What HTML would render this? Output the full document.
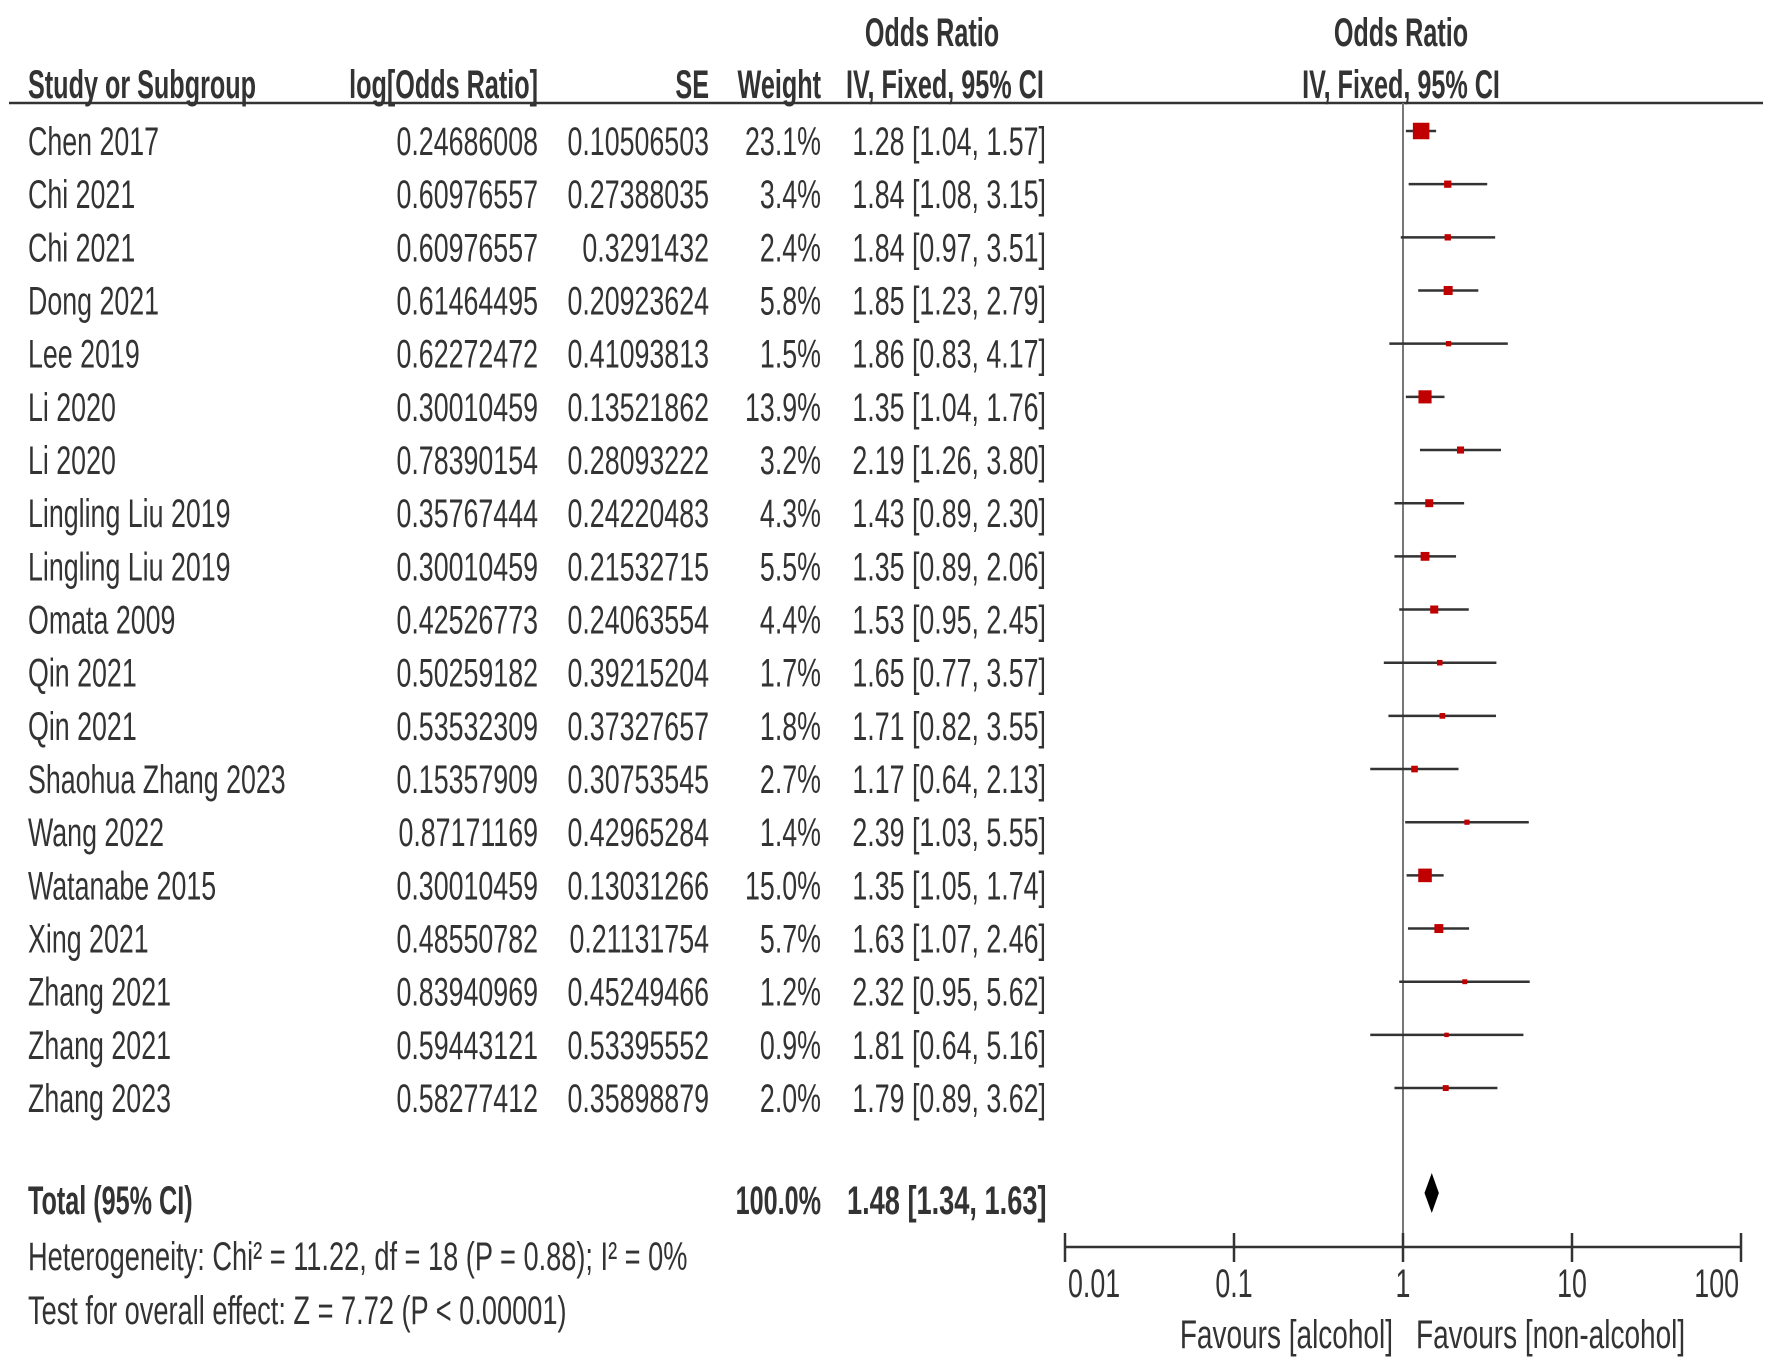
<!DOCTYPE html>
<html><head><meta charset="utf-8"><style>
html,body{margin:0;padding:0;background:#fff;}
svg{display:block;}
text{font-family:"Liberation Sans",sans-serif;fill:#333;}
</style></head><body>
<svg id="c" width="1772" height="1370" viewBox="0 0 1772 1370" xmlns="http://www.w3.org/2000/svg"></svg>
<script>
const studies=["Chen 2017","Chi 2021","Chi 2021","Dong 2021","Lee 2019","Li 2020","Li 2020","Lingling Liu 2019","Lingling Liu 2019","Omata 2009","Qin 2021","Qin 2021","Shaohua Zhang 2023","Wang 2022","Watanabe 2015","Xing 2021","Zhang 2021","Zhang 2021","Zhang 2023"];
const logOR=["0.24686008","0.60976557","0.60976557","0.61464495","0.62272472","0.30010459","0.78390154","0.35767444","0.30010459","0.42526773","0.50259182","0.53532309","0.15357909","0.87171169","0.30010459","0.48550782","0.83940969","0.59443121","0.58277412"];
const seVals=["0.10506503","0.27388035","0.3291432","0.20923624","0.41093813","0.13521862","0.28093222","0.24220483","0.21532715","0.24063554","0.39215204","0.37327657","0.30753545","0.42965284","0.13031266","0.21131754","0.45249466","0.53395552","0.35898879"];
const weights=[23.1,3.4,2.4,5.8,1.5,13.9,3.2,4.3,5.5,4.4,1.7,1.8,2.7,1.4,15.0,5.7,1.2,0.9,2.0];
const orVals=[1.28,1.84,1.84,1.85,1.86,1.35,2.19,1.43,1.35,1.53,1.65,1.71,1.17,2.39,1.35,1.63,2.32,1.81,1.79];
const ciLow=[1.04,1.08,0.97,1.23,0.83,1.04,1.26,0.89,0.89,0.95,0.77,0.82,0.64,1.03,1.05,1.07,0.95,0.64,0.89];
const ciHigh=[1.57,3.15,3.51,2.79,4.17,1.76,3.80,2.30,2.06,2.45,3.57,3.55,2.13,5.55,1.74,2.46,5.62,5.16,3.62];
const totalOR=[1.48,1.34,1.63];
const axisTicks=[0.01,0.1,1,10,100];
const axisLabels=["0.01","0.1","1","10","100"];

const svg=document.getElementById('c');
const NS="http://www.w3.org/2000/svg";
const FS=40;
function xs(v){return 1403+169*Math.log10(v);}
function rowY(i){return 141+53.17*i;}
function el(tag,attrs,parent){const e=document.createElementNS(NS,tag);for(const k in attrs)e.setAttribute(k,attrs[k]);(parent||svg).appendChild(e);return e;}
function txt(x,y,s,anchor,bold,name,fs,sx){
  const SX=sx||(bold?0.63:0.67);
  const g=el('g',{transform:'scale('+SX+',1)'});
  const t=el('text',{x:x/SX,y:y,'text-anchor':anchor||'start','font-size':fs||FS,'font-weight':bold?'bold':'normal'},g);
  t.textContent=s;
  
  
  return t;
}
txt(932,46,"Odds Ratio","middle",true,"or-header-top");
txt(1401,46,"Odds Ratio","middle",true,"plot-header-top");
txt(28,98,"Study or Subgroup","start",true,"study-header");
txt(538,98,"log[Odds Ratio]","end",true,"logor-header");
txt(709,98,"SE","end",true,"se-header");
txt(821,98,"Weight","end",true,"weight-header");
txt(846,98,"IV, Fixed, 95% CI","start",true,"ci-header");
txt(1401,98,"IV, Fixed, 95% CI","middle",true,"plot-header-method");
let hl=el('line',{x1:9,y1:103,x2:1763,y2:103,stroke:'#333','stroke-width':2.5});


let vl=el('line',{x1:1403,y1:103,x2:1403,y2:1247,stroke:'#777','stroke-width':2});



for(let i=0;i<studies.length;i++){
  const y=rowY(i), b=y+14;
  txt(28,b,studies[i],"start",false,"study-name");
  txt(538,b,logOR[i],"end",false,"logor-value");
  txt(709,b,seVals[i],"end",false,"se-value");
  txt(821,b,weights[i].toFixed(1)+"%","end",false,"weight-value");
  txt(1046,b,orVals[i].toFixed(2)+" ["+ciLow[i].toFixed(2)+", "+ciHigh[i].toFixed(2)+"]","end",false,"ci-value");
  const my=y-10;
  const l=el('line',{x1:xs(ciLow[i]),y1:my,x2:xs(ciHigh[i]),y2:my,stroke:'#333','stroke-width':2.5});
  
  
  const s=15*Math.sqrt(weights[i]/23.1)+1.5;
  const r=el('rect',{x:xs(orVals[i])-s/2,y:my-s/2,width:s,height:s,fill:'#c00000'});
  
  
}
txt(28,1214,"Total (95% CI)","start",true,"total-label");
txt(821,1214,"100.0%","end",true,"total-weight");
txt(847,1214,totalOR[0].toFixed(2)+" ["+totalOR[1].toFixed(2)+", "+totalOR[2].toFixed(2)+"]","start",true,"total-ci",40,0.68);
const dy=1193;
const d=el('polygon',{points:xs(totalOR[1])+','+dy+' '+xs(totalOR[0])+','+(dy-20)+' '+xs(totalOR[2])+','+dy+' '+xs(totalOR[0])+','+(dy+20),fill:'#000'});


txt(28,1270,"Heterogeneity: Chi\u00b2 = 11.22, df = 18 (P = 0.88); I\u00b2 = 0%","start",false,"heterogeneity-text",40,0.68);
txt(28,1324,"Test for overall effect: Z = 7.72 (P < 0.00001)","start",false,"overall-effect-text",40,0.68);
const ax=el('line',{x1:xs(0.01),y1:1247,x2:xs(100),y2:1247,stroke:'#333','stroke-width':2.5});


for(let i=0;i<axisTicks.length;i++){
  const x=xs(axisTicks[i]);
  const tk=el('line',{x1:x,y1:1233,x2:x,y2:1262,stroke:'#333','stroke-width':2.5});
  
  
  const anc=i==0?'start':(i==axisTicks.length-1?'end':'middle');
  txt(i==0?x+3:(i==axisTicks.length-1?x-2:x),1297,axisLabels[i],anc,false,"x-tick-label",40);
}
txt(1393,1348,"Favours [alcohol]","end",false,"favours-left-label",40,0.7);
txt(1416,1348,"Favours [non-alcohol]","start",false,"favours-right-label",40,0.7);
</script>
</body></html>
